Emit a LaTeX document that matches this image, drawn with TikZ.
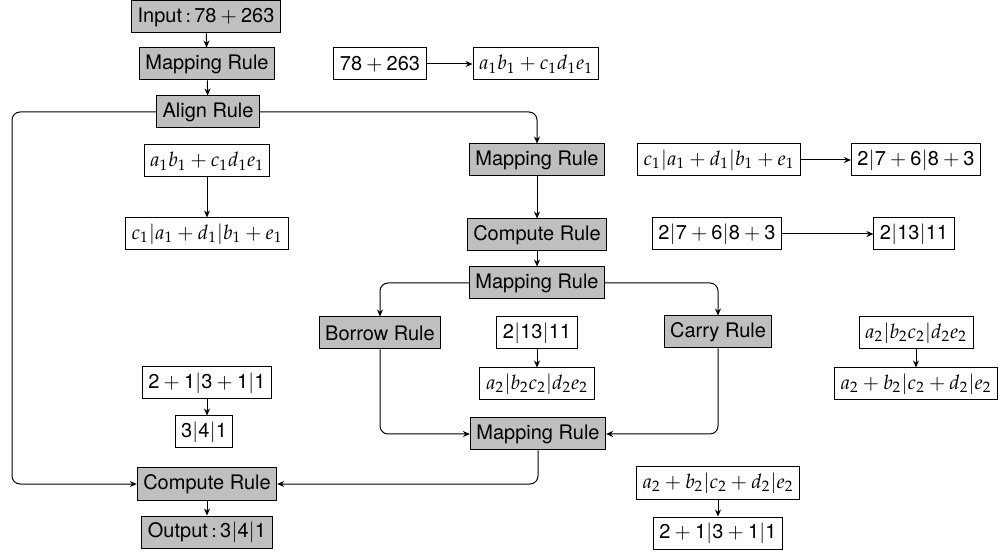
\documentclass[tikz,border=0pt]{standalone}
\usepackage{mathpazo}
\usepackage{fontspec}
\setmainfont{TeX Gyre Heros}
\usetikzlibrary{arrows.meta}
\newcommand\pl{${}+{}$}
\newcommand\br{$|$}
\begin{document}
\begin{tikzpicture}[x=0.5pt,y=-0.5pt,
  font=\fontsize{10}{12}\selectfont,
  rulebox/.style={draw, fill=gray!50, line width=0.5pt, minimum height=16pt, inner xsep=3pt, inner ysep=2pt},
  valbox/.style={draw, fill=white, line width=0.5pt, minimum height=16pt, inner xsep=3pt, inner ysep=2pt},
  conn/.style={line width=0.5pt, -{Stealth[length=3.5pt,width=3pt]}, rounded corners=4pt}]
\useasboundingbox (0,0) rectangle (1000,560);
% rule boxes
\node[rulebox] (in) at (206,17) {Input$\,:\,$78\pl263};
\node[rulebox] (m1) at (207,64) {Mapping Rule};
\node[rulebox] (al) at (208,112) {Align Rule};
\node[rulebox] (m2) at (537,160) {Mapping Rule};
\node[rulebox] (c2) at (537,235) {Compute Rule};
\node[rulebox] (m3) at (537,283) {Mapping Rule};
\node[rulebox] (bo) at (380,333) {Borrow Rule};
\node[rulebox] (ca) at (718,332) {Carry Rule};
\node[rulebox] (m4) at (538,434) {Mapping Rule};
\node[rulebox] (c3) at (207,484) {Compute Rule};
\node[rulebox] (out) at (207,532) {Output$\,:\,$3\br4\br1};
% value boxes
\node[valbox] (v1) at (380,64) {78\pl263};
\node[valbox] (v2) at (536,64) {$a_1b_1+c_1d_1e_1$};
\node[valbox] (v3) at (207,161) {$a_1b_1+c_1d_1e_1$};
\node[valbox] (v4) at (207,234) {$c_1|a_1+d_1|b_1+e_1$};
\node[valbox] (v5) at (719,160) {$c_1|a_1+d_1|b_1+e_1$};
\node[valbox] (v6) at (916,160) {2\br7\pl6\br8\pl3};
\node[valbox] (v7) at (717,234) {2\br7\pl6\br8\pl3};
\node[valbox] (v8) at (914,234) {2\br13\br11};
\node[valbox] (v9) at (537,333) {2\br13\br11};
\node[valbox] (v10) at (537,384) {$a_2|b_2c_2|d_2e_2$};
\node[valbox] (v11) at (916,333) {$a_2|b_2c_2|d_2e_2$};
\node[valbox] (v12) at (916,384) {$a_2+b_2|c_2+d_2|e_2$};
\node[valbox] (v13) at (207,383) {2\pl1\br3\pl1\br1};
\node[valbox] (v14) at (204,432) {3\br4\br1};
\node[valbox] (v15) at (718,483) {$a_2+b_2|c_2+d_2|e_2$};
\node[valbox] (v16) at (718,533) {2\pl1\br3\pl1\br1};
\coordinate (L) at (12,300);
% connectors
\draw[conn] (in) -- (m1);
\draw[conn] (m1) -- (al);
\draw[conn] (al.west) -- (al.west -| L) -- (c3.west -| L) -- (c3.west);
\draw[conn] (al.east) -| (m2.north);
\draw[conn] (m2) -- (c2);
\draw[conn] (c2) -- (m3);
\draw[conn] (m3.west) -| (bo.north);
\draw[conn] (m3.east) -| (ca.north);
\draw[conn] (bo.south) |- (m4.west);
\draw[conn] (ca.south) |- (m4.east);
\draw[conn] (m4.south) |- (c3.east);
\draw[conn] (c3) -- (out);
\draw[conn] (v1) -- (v2);
\draw[conn] (v3) -- (v4);
\draw[conn] (v5) -- (v6);
\draw[conn] (v7) -- (v8);
\draw[conn] (v9) -- (v10);
\draw[conn] (v11) -- (v12);
\draw[conn] (v13.south) -- (v13.south |- v14.north);
\draw[conn] (v15) -- (v16);
\end{tikzpicture}
\end{document}
